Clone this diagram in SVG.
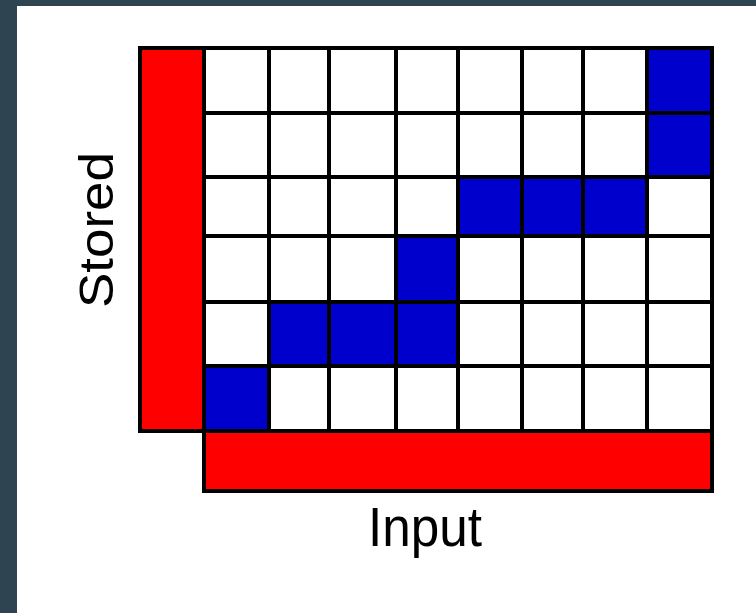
<svg xmlns="http://www.w3.org/2000/svg" width="756" height="613" viewBox="0 0 756 613">
  <style>
    .frame { fill: #000000; }
    .bar { fill: #ff0000; }
    .cell { fill: #ffffff; }
    .on { fill: #0000cc; }
    .label { font-family: "Liberation Sans", Arial, sans-serif; fill: #000000; }
  </style>
  <rect x="0" y="0" width="756" height="613" fill="#ffffff"/>
  <rect x="0" y="0" width="756" height="6" fill="#2e4450"/>
  <rect x="0" y="0" width="17" height="613" fill="#2e4450"/>

  <g id="stored-bar">
    <rect class="frame" x="138" y="46" width="68" height="387"/>
    <rect class="bar" x="142" y="50" width="60" height="379"/>
  </g>
  <g id="input-bar">
    <rect class="frame" x="202" y="429" width="512" height="64"/>
    <rect class="bar" x="206" y="433" width="504" height="56"/>
  </g>

  <g id="grid">
    <rect class="frame" x="202" y="46" width="512" height="387"/>
    <!-- row 0: y 50-111 -->
    <rect class="cell" x="206" y="50" width="61" height="61"/>
    <rect class="cell" x="271" y="50" width="56" height="61"/>
    <rect class="cell" x="331" y="50" width="63" height="61"/>
    <rect class="cell" x="398" y="50" width="58" height="61"/>
    <rect class="cell" x="460" y="50" width="60" height="61"/>
    <rect class="cell" x="524" y="50" width="57" height="61"/>
    <rect class="cell" x="585" y="50" width="60" height="61"/>
    <rect class="on" x="649" y="50" width="61" height="61"/>
    <!-- row 1: y 115-175 -->
    <rect class="cell" x="206" y="115" width="61" height="60"/>
    <rect class="cell" x="271" y="115" width="56" height="60"/>
    <rect class="cell" x="331" y="115" width="63" height="60"/>
    <rect class="cell" x="398" y="115" width="58" height="60"/>
    <rect class="cell" x="460" y="115" width="60" height="60"/>
    <rect class="cell" x="524" y="115" width="57" height="60"/>
    <rect class="cell" x="585" y="115" width="60" height="60"/>
    <rect class="on" x="649" y="115" width="61" height="60"/>
    <!-- row 2: y 179-234 -->
    <rect class="cell" x="206" y="179" width="61" height="55"/>
    <rect class="cell" x="271" y="179" width="56" height="55"/>
    <rect class="cell" x="331" y="179" width="63" height="55"/>
    <rect class="cell" x="398" y="179" width="58" height="55"/>
    <rect class="on" x="460" y="179" width="60" height="55"/>
    <rect class="on" x="524" y="179" width="57" height="55"/>
    <rect class="on" x="585" y="179" width="60" height="55"/>
    <rect class="cell" x="649" y="179" width="61" height="55"/>
    <!-- row 3: y 238-300 -->
    <rect class="cell" x="206" y="238" width="61" height="62"/>
    <rect class="cell" x="271" y="238" width="56" height="62"/>
    <rect class="cell" x="331" y="238" width="63" height="62"/>
    <rect class="on" x="398" y="238" width="58" height="62"/>
    <rect class="cell" x="460" y="238" width="60" height="62"/>
    <rect class="cell" x="524" y="238" width="57" height="62"/>
    <rect class="cell" x="585" y="238" width="60" height="62"/>
    <rect class="cell" x="649" y="238" width="61" height="62"/>
    <!-- row 4: y 304-364 -->
    <rect class="cell" x="206" y="304" width="61" height="60"/>
    <rect class="on" x="271" y="304" width="56" height="60"/>
    <rect class="on" x="331" y="304" width="63" height="60"/>
    <rect class="on" x="398" y="304" width="58" height="60"/>
    <rect class="cell" x="460" y="304" width="60" height="60"/>
    <rect class="cell" x="524" y="304" width="57" height="60"/>
    <rect class="cell" x="585" y="304" width="60" height="60"/>
    <rect class="cell" x="649" y="304" width="61" height="60"/>
    <!-- row 5: y 368-429 -->
    <rect class="on" x="206" y="368" width="61" height="61"/>
    <rect class="cell" x="271" y="368" width="56" height="61"/>
    <rect class="cell" x="331" y="368" width="63" height="61"/>
    <rect class="cell" x="398" y="368" width="58" height="61"/>
    <rect class="cell" x="460" y="368" width="60" height="61"/>
    <rect class="cell" x="524" y="368" width="57" height="61"/>
    <rect class="cell" x="585" y="368" width="60" height="61"/>
    <rect class="cell" x="649" y="368" width="61" height="61"/>
  </g>

  <g id="label-input">
    <text class="label" x="425" y="546" font-size="56" text-anchor="middle" textLength="114" lengthAdjust="spacingAndGlyphs">Input</text>
  </g>
  <g id="label-stored">
    <text class="label" transform="translate(113,230) rotate(-90)" x="0" y="0" font-size="48" text-anchor="middle" textLength="156" lengthAdjust="spacingAndGlyphs">Stored</text>
  </g>
</svg>
